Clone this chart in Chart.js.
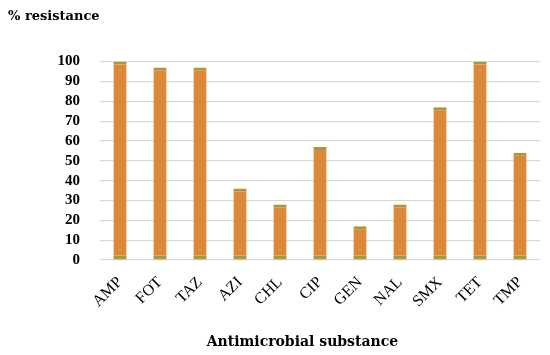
<!DOCTYPE html>
<html>
<head>
<meta charset="utf-8">
<script src="https://cdn.jsdelivr.net/npm/chart.js@4.4.1/dist/chart.umd.min.js"></script>
<style>
  html, body { margin: 0; padding: 0; background: #fff; }
  #wrap { width: 550px; height: 355px; position: relative; }
</style>
</head>
<body>
<div id="wrap"><canvas id="chart" width="550" height="355"></canvas></div>
<script>
// --- データ ---
const substances = ["AMP", "FOT", "TAZ", "AZI", "CHL", "CIP", "GEN", "NAL", "SMX", "TET", "TMP"];
const resistance = [100, 97, 97, 36, 28, 57, 17, 28, 77, 100, 54];
const yTicks = [0, 10, 20, 30, 40, 50, 60, 70, 80, 90, 100];
const xTitle = "Antimicrobial substance";

const serif = "'Liberation Serif', 'DejaVu Serif', serif";
const wideSerif = "'DejaVu Serif', 'Liberation Serif', serif";

// x軸タイトル（グラフ領域より少し左寄せ）
const xTitlePlugin = {
  id: "xTitle",
  afterDraw(chart) {
    const c = chart.ctx;
    const area = chart.chartArea;
    c.save();
    c.fillStyle = "#000";
    c.font = "bold 14px " + wideSerif;
    c.textAlign = "center";
    c.textBaseline = "middle";
    c.fillText(xTitle, area.left + area.width * 0.46, 342);
    c.restore();
  }
};

const ctx = document.getElementById("chart").getContext("2d");
new Chart(ctx, {
  type: "bar",
  data: {
    labels: substances,
    datasets: [{
      label: "% resistance",
      data: resistance,
      backgroundColor: "#DD8838",
      borderColor: "#A39A3C",
      borderWidth: { top: 3, bottom: 4, left: 0, right: 0 },
      borderSkipped: false,
      barPercentage: 0.33,
      categoryPercentage: 1.0
    }]
  },
  options: {
    responsive: false,
    animation: false,
    layout: { padding: { left: 8, right: 10, top: 4, bottom: 4 } },
    plugins: {
      legend: { display: false },
      tooltip: { enabled: false },
      title: {
        display: true,
        text: "% resistance",
        align: "start",
        color: "#000",
        font: { family: wideSerif, size: 13, weight: "bold" },
        padding: { top: 5, bottom: 37 }
      }
    },
    scales: {
      x: {
        grid: { display: false },
        border: { display: false },
        ticks: {
          color: "#000",
          font: { family: serif, size: 16 },
          minRotation: 45,
          maxRotation: 45,
          padding: 5
        },
        afterFit: (scale) => { scale.height = 91; }
      },
      y: {
        min: 0,
        max: 100,
        afterBuildTicks: (scale) => { scale.ticks = yTicks.map(v => ({ value: v })); },
        grid: { color: "#D9D9D9", lineWidth: 1.2, drawTicks: false },
        border: { display: false },
        ticks: {
          color: "#000",
          autoSkip: false,
          font: { family: serif, size: 15, weight: "bold" },
          padding: 20
        },
        afterFit: (scale) => { scale.width = 92; }
      }
    }
  },
  plugins: [xTitlePlugin]
});
</script>
</body>
</html>
